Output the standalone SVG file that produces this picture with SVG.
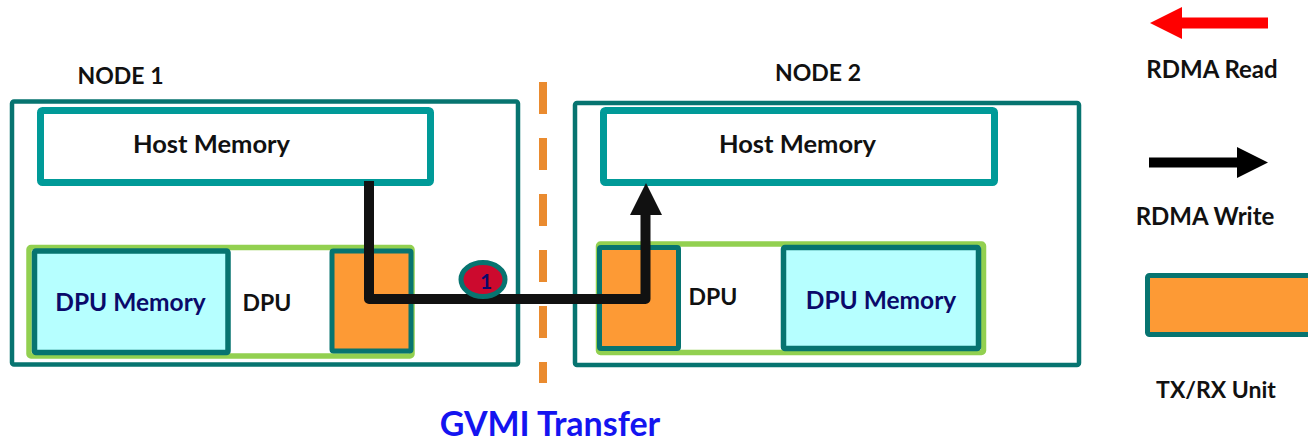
<svg xmlns="http://www.w3.org/2000/svg" width="1308" height="442" viewBox="0 0 1308 442">
<style>
text{font-family:Lato,"Open Sans","Liberation Sans",sans-serif;font-weight:700;text-anchor:middle}
.lbl{font-size:23px;fill:#111}
.leg{font-size:24px;fill:#111}
.host-t{font-size:25.5px;fill:#111}
.mem-t{font-size:24.5px;fill:#0a0a6a}
.node{fill:#fff;stroke:#077470;stroke-width:4.5}
.host{fill:#fff;stroke:#009a98;stroke-width:7}
.dpu{fill:#fff;stroke:#92d050;stroke-width:5.5}
.mem{fill:#b6ffff;stroke:#077470;stroke-width:5.5}
.txrx{fill:#fd9a35;stroke:#077470;stroke-width:5}
</style>
<rect width="1308" height="442" fill="#fff"/>
<g id="divider">
<line x1="543" y1="82" x2="543" y2="383" stroke="#ea8b2f" stroke-width="8" stroke-dasharray="32 24"/>
</g>
<g id="node1">
<rect class="node" x="12" y="101.5" width="506" height="263" rx="2"/>
<text class="lbl" x="120.5" y="84">NODE 1</text>
</g>
<g id="host1">
<rect class="host" x="40.5" y="110.5" width="390" height="72" rx="2"/>
<text class="host-t" x="211.5" y="153">Host Memory</text>
</g>
<g id="dpu1">
<rect class="dpu" x="29" y="247.5" width="383" height="108.5" rx="2"/>
<text class="lbl" x="267" y="311">DPU</text>
</g>
<g id="dpumem1">
<rect class="mem" x="34.5" y="251" width="193.5" height="101.5" rx="1.5"/>
<text class="mem-t" x="130.5" y="311">DPU Memory</text>
</g>
<g id="txrx1">
<rect class="txrx" x="332" y="251" width="79" height="100" rx="1.5"/>
</g>
<g id="node2">
<rect class="node" x="575" y="103" width="504" height="262" rx="2"/>
<text class="lbl" x="818" y="81">NODE 2</text>
</g>
<g id="host2">
<rect class="host" x="603.5" y="110.5" width="391" height="72" rx="2"/>
<text class="host-t" x="797.5" y="153">Host Memory</text>
</g>
<g id="dpu2">
<rect class="dpu" x="598.5" y="244" width="385" height="108.5" rx="2"/>
<text class="lbl" x="713" y="305">DPU</text>
</g>
<g id="dpumem2">
<rect class="mem" x="783.5" y="247.5" width="195" height="101" rx="1.5"/>
<text class="mem-t" x="881" y="309">DPU Memory</text>
</g>
<g id="txrx2">
<rect class="txrx" x="599.5" y="247.5" width="79" height="101" rx="1.5"/>
</g>
<g id="connectors">
<path d="M369,181 V299 H645.5 V212" fill="none" stroke="#111" stroke-width="10" stroke-linejoin="round"/>
<polygon points="630,215 646,183 662,215" fill="#111"/>
</g>
<g id="badge1">
<ellipse cx="483" cy="279.5" rx="22" ry="17" fill="#cc0a2e" stroke="#077470" stroke-width="5"/>
<text x="486" y="289" style="font-size:21px;fill:#0a0a6a">1</text>
</g>
<g id="legend-read">
<polygon points="1150,23 1182,7 1182,17.5 1268,17.5 1268,28.5 1182,28.5 1182,39" fill="#ff0000"/>
<text class="leg" x="1212" y="78">RDMA Read</text>
</g>
<g id="legend-write">
<polygon points="1149,157.5 1237,157.5 1237,147 1268,162.5 1237,178 1237,167.5 1149,167.5" fill="#000"/>
<text class="leg" x="1205" y="225">RDMA Write</text>
</g>
<g id="legend-txrx">
<rect class="txrx" x="1147.5" y="275.5" width="170" height="59" rx="2"/>
<text class="lbl" x="1216" y="398">TX/RX Unit</text>
</g>
<g id="title">
<text x="550" y="436" style="font-size:34px;fill:#1414f0">GVMI Transfer</text>
</g>
</svg>
